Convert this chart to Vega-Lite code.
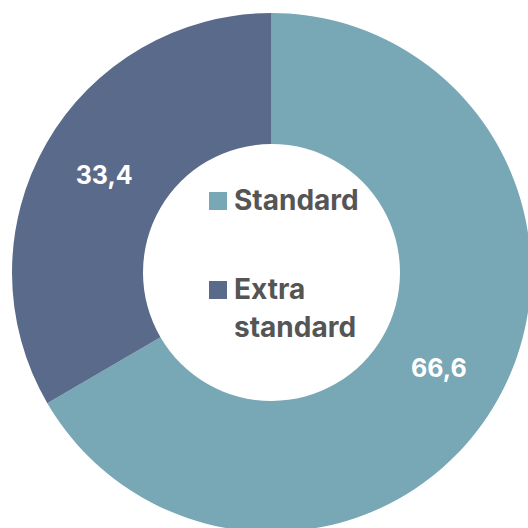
{
  "$schema": "https://vega.github.io/schema/vega-lite/v6.json",
  "width": 543,
  "height": 545,
  "padding": 0,
  "autosize": "none",
  "background": "white",
  "view": {"stroke": null},
  "data": {"values": [
    {"category": "Standard", "value": 66.6, "label": "66,6", "order": 1},
    {"category": "Extra standard", "value": 33.4, "label": "33,4", "order": 2}
  ]},
  "encoding": {
    "theta": {"field": "value", "type": "quantitative", "stack": true},
    "order": {"field": "order", "type": "quantitative"}
  },
  "layer": [
    {
      "mark": {"type": "arc", "outerRadius": 259.5, "innerRadius": 128.5},
      "encoding": {
        "color": {
          "field": "category",
          "type": "nominal",
          "scale": {"domain": ["Standard", "Extra standard"], "range": ["#78A7B5", "#5A6A8A"]},
          "legend": {
            "orient": "none",
            "legendX": 204,
            "legendY": 187,
            "title": null,
            "padding": 0,
            "symbolType": "square",
            "symbolSize": 324,
            "symbolStrokeWidth": 0,
            "labelFont": "Inter",
            "labelFontSize": 28,
            "labelFontWeight": "bold",
            "labelColor": "#555555",
            "labelOffset": 2,
            "labelLimit": 0,
            "labelBaseline": "top",
            "rowPadding": 60,
            "labelExpr": "datum.label == 'Extra standard' ? ['Extra', 'standard'] : datum.label",
            "encode": {"labels": {"update": {"lineHeight": {"value": 38}, "dy": {"value": -13}}}}
          }
        }
      }
    },
    {
      "mark": {"type": "text", "radius": 193, "font": "Inter", "fontSize": 25, "fontWeight": "bold", "color": "white"},
      "encoding": {"text": {"field": "label", "type": "nominal"}}
    }
  ]
}
